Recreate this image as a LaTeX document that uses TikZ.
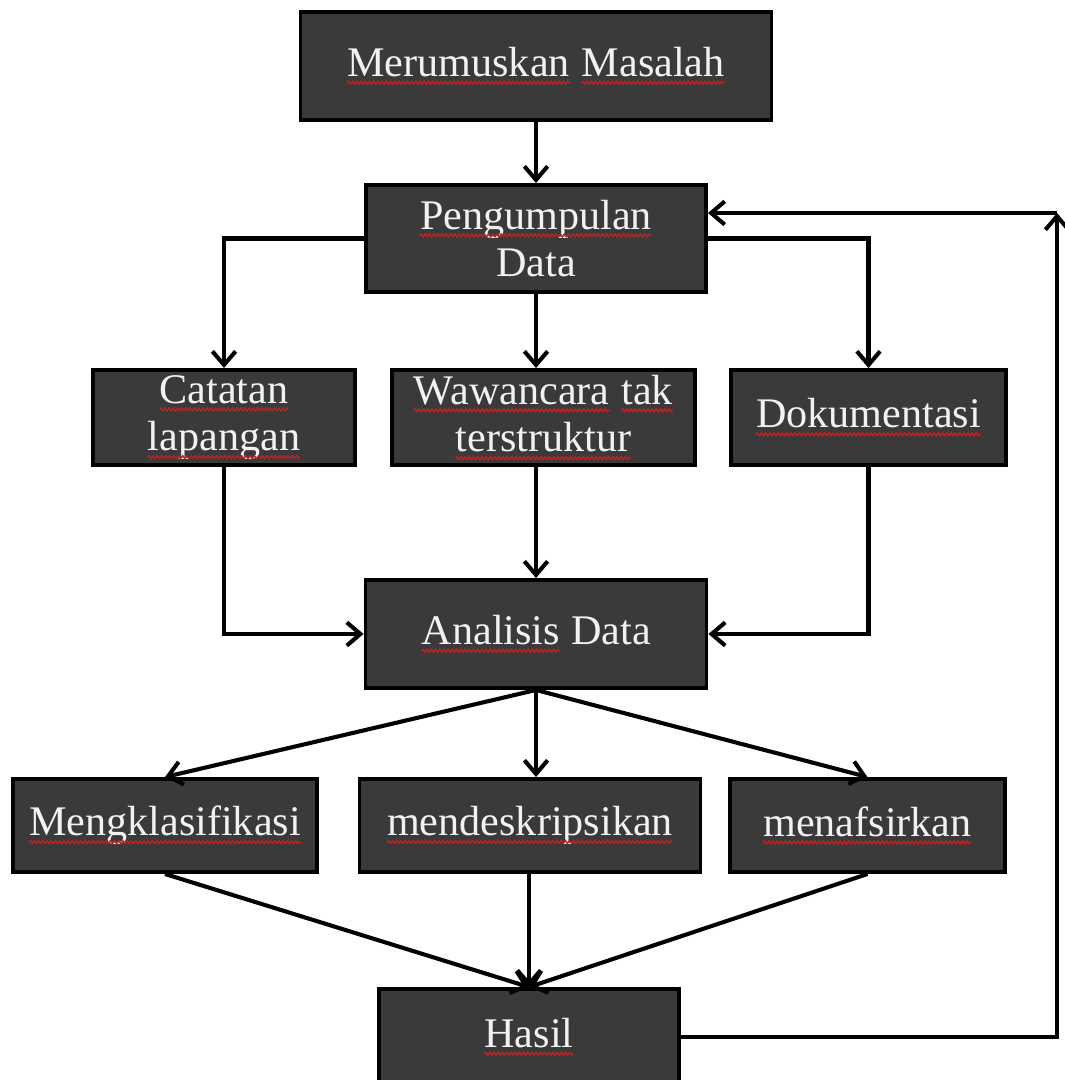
\documentclass[tikz,border=0pt]{standalone}
\usepackage{fontspec}
\setmainfont{Liberation Serif}
\usetikzlibrary{arrows.meta,decorations.pathmorphing}
\definecolor{boxgray}{RGB}{58,58,58}
\definecolor{boxtext}{RGB}{242,242,242}
\definecolor{wavered}{RGB}{185,35,35}
\newcommand\redwave[1]{\tikz[baseline=(wv.base)]{\node[draw=none, fill=none, inner sep=0pt, outer sep=0pt, minimum width=0pt, minimum height=0pt, text=boxtext] (wv) {#1}; \draw[draw=wavered, line width=1pt, decorate, decoration={zigzag, amplitude=1pt, segment length=3pt}] ([yshift=-4.5pt]wv.base west) -- ([yshift=-4.5pt]wv.base east);}}

\begin{document}
\begin{tikzpicture}[box/.style={draw=black, line width=2.8pt, fill=boxgray, text=boxtext, font=\fontsize{30.000000}{34.000000}\selectfont, align=center, inner sep=0pt}, arr/.style={line width=2.9pt, -{Straight Barb[length=3.4mm,width=5.8mm]}}]%
\useasboundingbox (0, 0) rectangle (26.600000, -27.000000);%
\node[box, minimum width=11.775000cm, minimum height=2.700000cm] (mrm) at (13.400000, -1.650000) {\redwave{Merumuskan} \redwave{Masalah}};%
\node[box, minimum width=8.500000cm, minimum height=2.675000cm] (pgd) at (13.400000, -5.962500) {\redwave{Pengumpulan}\\Data};%
\node[box, minimum width=6.550000cm, minimum height=2.375000cm] (ctt) at (5.600000, -10.437500) {\redwave{Catatan}\\\redwave{lapangan}};%
\node[box, minimum width=7.575000cm, minimum height=2.375000cm] (wwc) at (13.587500, -10.437500) {\redwave{Wawancara} \redwave{tak}\\\redwave{terstruktur}};%
\node[box, minimum width=6.875000cm, minimum height=2.375000cm] (dok) at (21.712500, -10.437500) {\redwave{Dokumentasi}};%
\node[box, minimum width=8.525000cm, minimum height=2.700000cm] (anl) at (13.400000, -15.850000) {\redwave{Analisis} Data};%
\node[box, minimum width=7.600000cm, minimum height=2.325000cm] (mkl) at (4.125000, -20.637500) {\redwave{Mengklasifikasi}};%
\node[box, minimum width=8.525000cm, minimum height=2.325000cm] (mds) at (13.250000, -20.637500) {\redwave{mendeskripsikan}};%
\node[box, minimum width=6.875000cm, minimum height=2.325000cm] (mnf) at (21.687500, -20.637500) {\redwave{menafsirkan}};%
\node[box, minimum width=7.500000cm, minimum height=2.400000cm] (hsl) at (13.225000, -25.925000) {\redwave{Hasil}};%
\coordinate (rc) at (26.425000, -5.325000);%
\draw[arr] (mrm.south -| pgd.north) -- (pgd.north);%
\draw[arr] (pgd.west) -| (ctt.north);%
\draw[arr] (pgd.south) -- (pgd.south |- wwc.north);%
\draw[arr] (pgd.east) -| (dok.north);%
\draw[arr] (ctt.south) |- (anl.west);%
\draw[arr] (anl.north |- wwc.south) -- (anl.north);%
\draw[arr] (dok.south) |- (anl.east);%
\draw[arr] (anl.south) -- (mkl.north);%
\draw[arr] (anl.south) -- (anl.south |- mds.north);%
\draw[arr] (anl.south) -- (mnf.north);%
\draw[arr] (mkl.south) -- (hsl.north);%
\draw[arr] (hsl.north |- mds.south) -- (hsl.north);%
\draw[arr] (mnf.south) -- (hsl.north);%
\draw[arr] (hsl.east) -| (rc);%
\draw[arr] (rc) -- (rc -| pgd.east);%
\end{tikzpicture}
\end{document}
